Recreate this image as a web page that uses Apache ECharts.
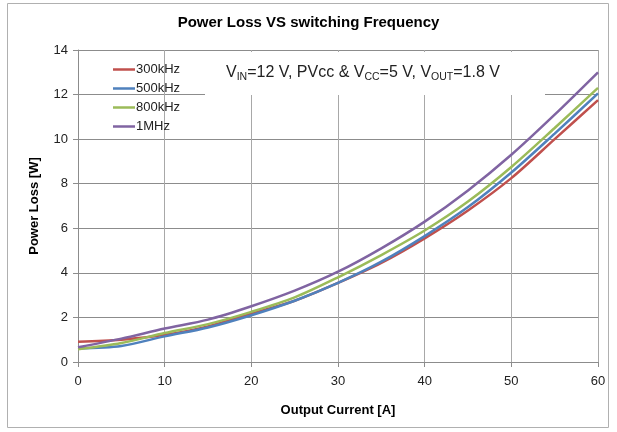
<!DOCTYPE html>
<html>
<head>
<meta charset="utf-8">
<script src="https://cdn.jsdelivr.net/npm/echarts@6/dist/echarts.min.js"></script>
<style>
  html, body { margin: 0; padding: 0; background: #fff; }
  #chart { width: 617px; height: 432px; }
</style>
</head>
<body>
<div id="chart"></div>
<script>
// output current [A]
var current = [0, 5, 10, 15, 20, 25, 30, 35, 40, 45, 50, 55, 60];

// power loss [W] per switching frequency
var loss300k = [0.91, 1.0, 1.22, 1.6, 2.17, 2.75, 3.55, 4.45, 5.55, 6.8, 8.25, 10.0, 11.75];
var loss500k = [0.61, 0.72, 1.15, 1.55, 2.1, 2.75, 3.55, 4.5, 5.65, 6.95, 8.5, 10.25, 12.05];
var loss800k = [0.57, 0.85, 1.3, 1.7, 2.25, 2.9, 3.8, 4.8, 5.9, 7.2, 8.75, 10.5, 12.3];
var loss1M = [0.66, 1.05, 1.5, 1.9, 2.5, 3.2, 4.05, 5.1, 6.3, 7.7, 9.3, 11.1, 13.0];

var seriesNames = ['300kHz', '500kHz', '800kHz', '1MHz'];
var seriesColors = ['#C0504D', '#4F81BD', '#9BBB59', '#8064A2'];

var font = 'Liberation Sans, Arial, sans-serif';

function pairs(ys) {
    return current.map(function (x, i) { return [x, ys[i]]; });
}

var myChart = echarts.init(document.getElementById('chart'));

var option = {
    animation: false,
    title: {
        text: 'Power Loss VS switching Frequency',
        left: 'center',
        top: 10,
        textStyle: { fontSize: 15, fontWeight: 'bold', fontFamily: font, color: '#000' }
    },
    legend: {
        orient: 'vertical',
        left: 113,
        top: 62,
        padding: 0,
        icon: 'rect',
        itemWidth: 22,
        itemHeight: 2.5,
        itemGap: 4,
        data: seriesNames,
        textStyle: { fontSize: 13, fontFamily: font, color: '#222', padding: [0, 0, 0, -4], lineHeight: 15 },
        z: 5
    },
    grid: { left: 78, right: 19, top: 50, bottom: 70 },
    xAxis: {
        type: 'value',
        min: 0,
        max: 60,
        interval: 10,
        name: 'Output Current [A]',
        nameLocation: 'middle',
        nameGap: 42,
        nameTextStyle: { fontSize: 13, fontWeight: 'bold', fontFamily: font, color: '#000' },
        axisLine: { show: true, lineStyle: { color: '#8c8c8c' } },
        axisTick: { show: true, length: 5, lineStyle: { color: '#8c8c8c' } },
        axisLabel: { fontSize: 13, fontFamily: font, color: '#222', margin: 13 },
        splitLine: { show: true, lineStyle: { color: '#a8a8a8', width: 1 } }
    },
    yAxis: {
        type: 'value',
        min: 0,
        max: 14,
        interval: 2,
        name: 'Power Loss [W]',
        nameLocation: 'middle',
        nameGap: 37,
        nameTextStyle: { fontSize: 13, fontWeight: 'bold', fontFamily: font, color: '#000' },
        axisLine: { show: true, lineStyle: { color: '#8c8c8c' } },
        axisTick: { show: true, length: 5, lineStyle: { color: '#8c8c8c' } },
        axisLabel: { fontSize: 13, fontFamily: font, color: '#222', margin: 10 },
        splitLine: { show: true, lineStyle: { color: '#8c8c8c', width: 1 } }
    },
    graphic: [
        {
            type: 'rect',
            shape: { x: 7.5, y: 3.5, width: 601, height: 424 },
            style: { fill: 'none', stroke: '#b0b0b0', lineWidth: 1 },
            z: 0
        },
        {
            type: 'rect',
            shape: { x: 205, y: 52, width: 340, height: 43 },
            style: { fill: '#fff' },
            z: 1
        },
        {
            type: 'text',
            left: 226,
            top: 65,
            style: {
                text: '{n|V}{s|IN}{n|=12 V, PVcc & V}{s|CC}{n|=5 V, V}{s|OUT}{n|=1.8 V}',
                rich: {
                    n: { fontSize: 16, fontFamily: font, fill: '#222', lineHeight: 20 },
                    s: { fontSize: 10.5, fontFamily: font, fill: '#222', lineHeight: 11, verticalAlign: 'bottom' }
                }
            },
            z: 2
        }
    ],
    series: [loss300k, loss500k, loss800k, loss1M].map(function (ys, i) {
        return {
            name: seriesNames[i],
            type: 'line',
            data: pairs(ys),
            smooth: 0.3,
            symbol: 'none',
            z: 3 + i,
            itemStyle: { color: seriesColors[i] },
            lineStyle: { color: seriesColors[i], width: 2.5 }
        };
    })
};

myChart.setOption(option);
</script>
</body>
</html>
